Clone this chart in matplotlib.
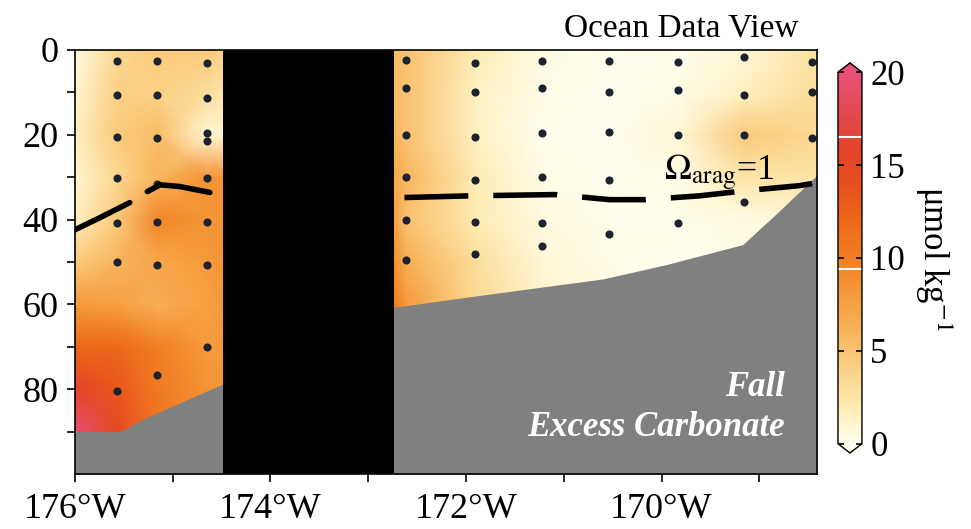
import numpy as np
import matplotlib.pyplot as plt
from matplotlib.colors import LinearSegmentedColormap
from matplotlib.ticker import FixedLocator, FuncFormatter

plt.rcParams['font.family'] = ['Liberation Serif', 'DejaVu Serif']
plt.rcParams['mathtext.fontset'] = 'stix'

# grid nodes of the excess carbonate field (lon deg E, depth m)
grid_lon = [-176.0, -175.57, -175.16, -174.65, -174.49, -172.74, -172.61,
            -171.91, -171.22, -170.54, -169.83, -169.16, -168.46, -168.41]
grid_depth = [0, 10, 20, 30, 40, 50, 60, 70, 80, 90, 100]
excess_co3 = [
    [0.5, 3.5, 4.5, 4.5, 4.0, 5.5, 5.0, 2.0, 0.4, 0.0, 0.1, 0.8, 2.5, 2.5],
    [1.0, 4.0, 4.0, 3.0, 2.5, 5.5, 5.0, 1.5, 0.2, 0.0, 0.2, 1.5, 3.0, 3.0],
    [1.5, 4.5, 5.5, 1.0, 1.0, 6.0, 5.0, 1.5, 0.1, 0.0, 0.8, 4.5, 3.5, 3.5],
    [1.0, 3.5, 6.0, 8.5, 8.5, 7.0, 6.0, 2.0, 0.3, 0.0, 0.3, 2.5, 2.5, 2.5],
    [1.5, 4.5, 9.5, 8.5, 8.5, 7.5, 5.0, 2.0, 0.5, 0.1, 0.1, 0.4, 0.8, 0.8],
    [4.5, 6.0, 7.0, 8.0, 8.5, 9.0, 6.5, 3.0, 0.8, 0.2, 0.1, 0.2, 0.4, 0.4],
    [8.0, 7.5, 6.5, 7.5, 8.0, 10.5, 8.0, 3.5, 1.2, 0.4, 0.2, 0.2, 0.4, 0.4],
    [12.0, 12.0, 10.0, 8.0, 8.0, 10.5, 8.0, 4.0, 2.0, 1.0, 0.5, 0.5, 0.5, 0.5],
    [16.0, 13.5, 10.5, 8.5, 8.5, 10.5, 8.0, 4.0, 2.0, 1.0, 0.5, 0.5, 0.5, 0.5],
    [19.5, 15.0, 11.0, 9.0, 9.0, 10.5, 8.0, 4.0, 2.0, 1.0, 0.5, 0.5, 0.5, 0.5],
    [19.5, 15.0, 11.0, 9.0, 9.0, 10.5, 8.0, 4.0, 2.0, 1.0, 0.5, 0.5, 0.5, 0.5],
]

# sample stations
stn_lon = [-175.57, -175.16, -174.65, -172.61, -171.91, -171.22,
           -170.54, -169.83, -169.16, -168.46]
stn_depths = [
    [2.6, 10.6, 20.5, 30.1, 40.9, 50.0, 80.5],
    [2.6, 10.6, 20.7, 31.5, 40.5, 50.6, 76.7],
    [3.0, 11.3, 19.6, 21.5, 30.1, 40.5, 50.6, 70.0],
    [2.4, 9.0, 20.0, 29.9, 40.0, 49.6],
    [3.0, 10.0, 20.5, 30.6, 40.5, 48.0],
    [2.6, 9.0, 19.6, 30.0, 40.8, 46.3],
    [2.6, 10.0, 19.3, 30.6, 43.5],
    [2.8, 9.4, 20.0, 40.8],
    [1.6, 10.6, 20.0, 35.8],
    [2.8, 10.0, 20.7],
]

# bottom topography
bot_lon_w = [-176.0, -175.54, -175.27, -174.49]
bot_dep_w = [90.0, 90.0, 86.7, 78.8]
bot_lon_e = [-172.74, -171.93, -171.25, -170.6, -169.95, -169.17, -168.82, -168.41]
bot_dep_e = [60.7, 58.1, 56.0, 54.0, 50.6, 45.9, 38.5, 29.5]

# no-data gap
gap_lon = (-174.49, -172.74)

# Omega_arag = 1 isoline
om_lon_a = [-176.0, -175.74, -175.44]
om_dep_a = [42.4, 39.5, 36.0]
om_lon_b = [-175.26, -175.13, -174.93, -174.62]
om_dep_b = [33.4, 31.8, 32.2, 33.6]
om_lon_c = [-172.63, -171.96, -171.09, -170.53, -170.17, -169.61, -169.15, -168.59, -168.46]
om_dep_c = [34.8, 34.4, 34.1, 35.3, 35.3, 34.4, 33.2, 32.0, 31.5]

cmap = LinearSegmentedColormap.from_list('odv', [
    (0.00, '#FFFFEE'), (0.10, '#FEEBB0'), (0.19, '#FBD38A'), (0.275, '#F9BC66'),
    (0.36, '#F7A446'), (0.445, '#F38E30'), (0.53, '#F07820'), (0.615, '#EC6418'),
    (0.70, '#E8501E'), (0.79, '#E44428'), (0.875, '#E24848'), (1.00, '#E8507A')])

fig = plt.figure(figsize=(9.71, 5.29), dpi=100)
ax = fig.add_axes([0.0772, 0.104, 0.7642, 0.8015])

mesh = ax.pcolormesh(grid_lon, grid_depth, np.array(excess_co3), shading='gouraud',
                     cmap=cmap, vmin=0, vmax=20, zorder=1)

for lon, deps in zip(stn_lon, stn_depths):
    ax.scatter([lon] * len(deps), deps, s=34, color='#1c2230', zorder=3, linewidths=0)

ax.fill_between(bot_lon_w, bot_dep_w, 100, color='#808080', lw=0, zorder=4)
ax.fill_between(bot_lon_e, bot_dep_e, 100, color='#808080', lw=0, zorder=4)
ax.axvspan(gap_lon[0], gap_lon[1], color='black', lw=0, zorder=5)

ax.plot(om_lon_a, om_dep_a, color='black', lw=4, solid_capstyle='round', zorder=6)
ax.plot(om_lon_b, om_dep_b, color='black', lw=4, solid_capstyle='round', zorder=6)
ax.plot(om_lon_c, om_dep_c, color='black', lw=4, ls=(0, (11.5, 4.5)), zorder=6)

ax.text(-169.97, 29.0, r'$\Omega_{\mathrm{arag}}$=1', fontsize=26, ha='left', va='center',
        color='black', zorder=7)
ax.text(-168.74, 79.5, 'Fall', fontsize=25, color='white', fontweight='bold',
        fontstyle='italic', ha='right', va='center', zorder=7)
ax.text(-168.74, 89.0, 'Excess Carbonate', fontsize=25, color='white', fontweight='bold',
        fontstyle='italic', ha='right', va='center', zorder=7)

ax.set_xlim(-176.0, -168.41)
ax.set_ylim(100, 0)
ax.xaxis.set_major_locator(FixedLocator([-176, -174, -172, -170]))
ax.xaxis.set_minor_locator(FixedLocator([-175, -173, -171, -169]))
ax.xaxis.set_major_formatter(FuncFormatter(lambda v, p: '%d\u00b0W' % round(-v)))
ax.yaxis.set_major_locator(FixedLocator([0, 20, 40, 60, 80]))
ax.yaxis.set_minor_locator(FixedLocator([10, 30, 50, 70, 90]))
ax.tick_params(which='both', direction='out', length=6, width=1.2, labelsize=26)
ax.tick_params(axis='x', pad=8)
ax.tick_params(axis='y', pad=6)
for s in ax.spines.values():
    s.set_linewidth(1.2)
    s.set_zorder(8)

fig.text(0.822, 0.947, 'Ocean Data View', fontsize=24, ha='right', va='center')

cax = fig.add_axes([0.863, 0.1437, 0.0247, 0.7373])
cb = fig.colorbar(mesh, cax=cax, extend='both', extendfrac=0.025)
cb.set_ticks([0, 5, 10, 15, 20])
cb.ax.tick_params(direction='in', length=4, width=1.2, left=True, right=True,
                  labelsize=25, pad=6)
cb.outline.set_linewidth(1.0)
cb.ax.axhline(9.4, color='white', lw=1.5)
cb.ax.axhline(16.5, color='white', lw=1.5)
cb.set_label('\u03bcmol kg$^{-1}$', rotation=270, fontsize=25, labelpad=36)

fig.savefig('out.png', dpi=100)
